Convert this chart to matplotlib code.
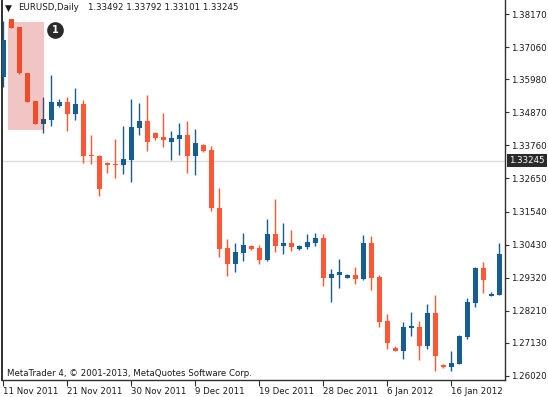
import matplotlib
matplotlib.use("Agg")
import matplotlib.pyplot as plt
from matplotlib.patches import Rectangle
import matplotlib.transforms as mtransforms

# ---------------- data ----------------
symbol = "EURUSD,Daily"
header_values = "1.33492 1.33792 1.33101 1.33245"
current_price = 1.33245
copyright_text = "MetaTrader 4, \u00a9 2001-2013, MetaQuotes Software Corp."

opens = [1.36055, 1.38002, 1.37734, 1.36189, 1.35250, 1.34478, 1.34612, 1.35082,
         1.35216, 1.34813, 1.35149, 1.33437, 1.33403, 1.33168, 1.33135, 1.33101,
         1.33269, 1.34343, 1.34578, 1.34175, 1.34041, 1.33873, 1.33974, 1.34108,
         1.33403, 1.33773, 1.33605, 1.31658, 1.30315, 1.29778, 1.30147, 1.30382,
         1.30315, 1.29912, 1.30785, 1.30382, 1.30483, 1.30282, 1.30349, 1.30483,
         1.30651, 1.29308, 1.29409, 1.29308, 1.29409, 1.29274, 1.30483, 1.29342,
         1.27865, 1.26958, 1.26858, 1.27630, 1.27663, 1.27025, 1.28133, 1.26388,
         1.26320, 1.26421, 1.27328, 1.28469, 1.29644, 1.28704, 1.28737]
highs = [1.37935, 1.38002, 1.37734, 1.36189, 1.35250, 1.35384, 1.36122, 1.35317,
         1.35384, 1.35686, 1.35283, 1.34108, 1.33437, 1.33202, 1.33974, 1.34410,
         1.35317, 1.35182, 1.35451, 1.34209, 1.34847, 1.34243, 1.34511, 1.34578,
         1.34310, 1.33806, 1.33739, 1.32329, 1.30617, 1.30483, 1.30819, 1.30416,
         1.30416, 1.31289, 1.31960, 1.31154, 1.30919, 1.30416, 1.30785, 1.30819,
         1.30785, 1.29610, 1.29946, 1.29442, 1.29677, 1.30751, 1.30718, 1.29409,
         1.28100, 1.27025, 1.27831, 1.28167, 1.27865, 1.28435, 1.28737, 1.26421,
         1.26858, 1.27395, 1.28637, 1.29677, 1.29845, 1.28838, 1.30483]
lows = [1.35720, 1.37700, 1.36156, 1.35216, 1.34478, 1.34175, 1.34410, 1.35048,
        1.34243, 1.34612, 1.33168, 1.33135, 1.32061, 1.32833, 1.32665, 1.32799,
        1.32531, 1.34108, 1.33571, 1.33940, 1.33705, 1.33269, 1.33437, 1.32833,
        1.32766, 1.33538, 1.31557, 1.30013, 1.29375, 1.29509, 1.29879, 1.30248,
        1.29778, 1.29879, 1.30181, 1.30114, 1.30214, 1.30248, 1.30282, 1.30382,
        1.29039, 1.28502, 1.28972, 1.29308, 1.29107, 1.29241, 1.28905, 1.27663,
        1.26925, 1.26858, 1.26589, 1.27361, 1.26555, 1.26925, 1.26186, 1.26287,
        1.26186, 1.26421, 1.27260, 1.28335, 1.28804, 1.28704, 1.28737]
closes = [1.37297, 1.37700, 1.36189, 1.35216, 1.34478, 1.34645, 1.35216, 1.35216,
          1.34813, 1.35149, 1.33403, 1.33403, 1.32296, 1.33101, 1.33101, 1.33303,
          1.34377, 1.34578, 1.33873, 1.34008, 1.33940, 1.34008, 1.34108, 1.33403,
          1.33840, 1.33571, 1.31658, 1.30282, 1.29778, 1.30181, 1.30416, 1.30282,
          1.29912, 1.30785, 1.30382, 1.30483, 1.30349, 1.30382, 1.30517, 1.30651,
          1.29308, 1.29442, 1.29509, 1.29409, 1.29274, 1.30483, 1.29308, 1.27831,
          1.27126, 1.26858, 1.27663, 1.27697, 1.27025, 1.28133, 1.26690, 1.26320,
          1.26455, 1.27361, 1.28502, 1.29644, 1.29241, 1.28771, 1.30114]

date_labels = ["11 Nov 2011", "21 Nov 2011", "30 Nov 2011", "9 Dec 2011",
               "19 Dec 2011", "28 Dec 2011", "6 Jan 2012", "16 Jan 2012"]
date_ticks = [0, 8, 16, 24, 32, 40, 48, 56]
price_ticks = [1.38170, 1.37060, 1.35980, 1.34870, 1.33760, 1.32650,
               1.31540, 1.30430, 1.29320, 1.28210, 1.27130, 1.26020]

highlight_first_bar = 1
highlight_last_bar = 5
highlight_top = 1.3790
highlight_bottom = 1.3428
marker_label = "1"

# ---------------- style ----------------
W, H = 548, 397
FONT = "DejaVu Sans"
FS = 6.2
BULL = "#175d91"
BEAR = "#ff5733"
BULL_HL = "#3e4a6e"
BEAR_HL = "#ef4c2c"
HL_FILL = "#f2c5c5"
DARK = "#2b2b2b"

plt.rcParams["font.family"] = [FONT]
fig = plt.figure(figsize=(W / 100, H / 100), dpi=100)
fig.patch.set_facecolor("white")
ax_left, ax_right, ax_bottom_px = 2, 505, 380
ax = fig.add_axes([ax_left / W, (H - ax_bottom_px) / H,
                   (ax_right - ax_left) / W, ax_bottom_px / H])

n = len(opens)
px_per_bar = 8.0
x0 = (ax_left - 3) / px_per_bar
x1 = x0 + (ax_right - ax_left) / px_per_bar
ax.set_xlim(x0, x1)
ax.set_ylim(1.25884, 1.38640)

price_per_px = (1.38640 - 1.25884) / ax_bottom_px
body_w = 5 / px_per_bar

# highlight rectangle
ax.add_patch(Rectangle((highlight_first_bar - 0.375, highlight_bottom),
                       (highlight_last_bar - highlight_first_bar) + 0.5,
                       highlight_top - highlight_bottom,
                       facecolor=HL_FILL, edgecolor="none", zorder=1))

# current price line
ax.axhline(current_price, color="#dedede", lw=1.0, zorder=0.5)

for i in range(n):
    o, h, l, c = opens[i], highs[i], lows[i], closes[i]
    bull = c >= o
    in_hl = highlight_first_bar <= i <= highlight_last_bar
    if bull:
        col = BULL_HL if in_hl else BULL
    else:
        col = BEAR_HL if in_hl else BEAR
    ax.vlines(i, l, h, color=col, lw=1.0, zorder=2)
    bot = min(o, c)
    ht = max(abs(c - o), price_per_px * 1.2)
    ax.add_patch(Rectangle((i - body_w / 2, bot), body_w, ht,
                           facecolor=col, edgecolor="none", zorder=3))

# marker circle "1"
mx = highlight_last_bar + 1.5
my = 1.37633
ax.plot([mx], [my], marker="o", markersize=12, color=DARK,
        markeredgewidth=0, zorder=5)
ax.text(mx, my, marker_label, color="white", fontsize=7, fontweight="bold",
        ha="center", va="center", zorder=6)

# axes styling
ax.spines["top"].set_visible(False)
ax.spines["left"].set_color("#303030")
ax.spines["left"].set_linewidth(1.4)
ax.spines["right"].set_color("#303030")
ax.spines["right"].set_linewidth(1.0)
ax.spines["bottom"].set_color("#303030")
ax.spines["bottom"].set_linewidth(1.0)

ax.yaxis.tick_right()
ax.set_yticks(price_ticks)
ax.set_yticklabels([f"{p:.5f}" for p in price_ticks])
ax.tick_params(axis="y", direction="out", length=3, width=0.8, color="#303030",
               pad=1.5, labelsize=FS, labelcolor="#1a1a1a")

ax.set_xticks(date_ticks)
ax.set_xticklabels(date_labels)
ax.tick_params(axis="x", direction="out", length=4, width=0.8, color="#303030",
               pad=1.0, labelsize=FS, labelcolor="#1a1a1a")
for lbl in ax.get_xticklabels():
    lbl.set_horizontalalignment("left")

# current price tag on the axis
trans = mtransforms.blended_transform_factory(ax.transAxes, ax.transData)
ax.text(1.0 + 4.5 / (ax_right - ax_left), current_price, f"{current_price:.5f}",
        transform=trans, ha="left", va="center", fontsize=FS, color="white",
        bbox=dict(boxstyle="square,pad=0.25", fc=DARK, ec="none"),
        zorder=10, clip_on=False)

# header
fig.text(5 / W, 1 - 8.5 / H, "\u25bc", fontsize=6.5, color="#1a1a1a",
         ha="left", va="center")
fig.text(18 / W, 1 - 8 / H, symbol, fontsize=FS, color="#1a1a1a",
         ha="left", va="center")
fig.text(88 / W, 1 - 8 / H, header_values, fontsize=FS, color="#1a1a1a",
         ha="left", va="center")

# copyright
fig.text(7 / W, 1 - 373 / H, copyright_text, fontsize=FS, color="#1a1a1a",
         ha="left", va="center")

fig.savefig("out.png", dpi=100, facecolor="white")
